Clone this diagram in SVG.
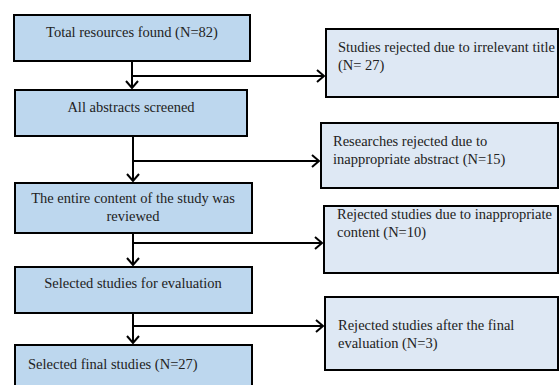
<svg xmlns="http://www.w3.org/2000/svg" width="559" height="385" viewBox="0 0 559 385">
  <style>
    .main { fill: #bdd7ee; stroke: #000; stroke-width: 2; }
    .side { fill: #dee8f4; stroke: #000; stroke-width: 2; }
    text { font-family: "Liberation Serif", "DejaVu Serif", serif; font-size: 14.5px; fill: #222; }
    .c { text-anchor: middle; }
    .conn { fill: none; stroke: #000; stroke-width: 2; }
  </style>
  <defs>
    <marker id="arr" markerUnits="userSpaceOnUse" markerWidth="14" markerHeight="14" viewBox="-8 -7 10 14" refX="0" refY="0" orient="auto">
      <path d="M-7,-6 L0,0 L-7,6" fill="none" stroke="#000" stroke-width="2"/>
    </marker>
  </defs>
  <rect width="559" height="385" fill="#fff"/>

  <g id="connectors">
    <path class="conn" d="M132,61 V88" marker-end="url(#arr)"/>
    <path class="conn" d="M132,76 H324" marker-end="url(#arr)"/>
    <path class="conn" d="M133,136 V181" marker-end="url(#arr)"/>
    <path class="conn" d="M133,161 H319" marker-end="url(#arr)"/>
    <path class="conn" d="M133,233 V265" marker-end="url(#arr)"/>
    <path class="conn" d="M133,243 H322" marker-end="url(#arr)"/>
    <path class="conn" d="M133,313 V343" marker-end="url(#arr)"/>
    <path class="conn" d="M133,326 H323" marker-end="url(#arr)"/>
  </g>

  <g id="n1">
    <rect class="main" x="14" y="15" width="236" height="46"/>
    <text class="c" x="132" y="37" font-family="Liberation Serif, serif">Total resources found (N=82)</text>
  </g>
  <g id="n2">
    <rect class="main" x="15" y="90" width="232" height="46"/>
    <text class="c" x="131" y="112" font-family="Liberation Serif, serif">All abstracts screened</text>
  </g>
  <g id="n3">
    <rect class="main" x="15" y="183" width="237" height="50"/>
    <text class="c" x="133" y="203" font-family="Liberation Serif, serif">The entire content of the study was</text>
    <text class="c" x="133" y="221" font-family="Liberation Serif, serif">reviewed</text>
  </g>
  <g id="n4">
    <rect class="main" x="15" y="267" width="237" height="46"/>
    <text class="c" x="133" y="288" font-family="Liberation Serif, serif">Selected studies for evaluation</text>
  </g>
  <g id="n5">
    <rect class="main" x="15" y="345" width="237" height="50"/>
    <text x="28" y="369" font-family="Liberation Serif, serif">Selected final studies (N=27)</text>
  </g>

  <g id="r1">
    <rect class="side" x="326" y="29" width="232" height="68"/>
    <text x="338" y="52" font-family="Liberation Serif, serif">Studies rejected due to irrelevant title</text>
    <text x="338" y="70" font-family="Liberation Serif, serif">(N= 27)</text>
  </g>
  <g id="r2">
    <rect class="side" x="321" y="123" width="237" height="65"/>
    <text x="333" y="146" font-family="Liberation Serif, serif">Researches rejected due to</text>
    <text x="333" y="164" font-family="Liberation Serif, serif">inappropriate abstract (N=15)</text>
  </g>
  <g id="r3">
    <rect class="side" x="324" y="206" width="234" height="67"/>
    <text x="337" y="219" font-family="Liberation Serif, serif">Rejected studies due to inappropriate</text>
    <text x="337" y="237" font-family="Liberation Serif, serif">content (N=10)</text>
  </g>
  <g id="r4">
    <rect class="side" x="325" y="297" width="233" height="73"/>
    <text x="338" y="330" font-family="Liberation Serif, serif">Rejected studies after the final</text>
    <text x="338" y="348" font-family="Liberation Serif, serif">evaluation (N=3)</text>
  </g>
</svg>
